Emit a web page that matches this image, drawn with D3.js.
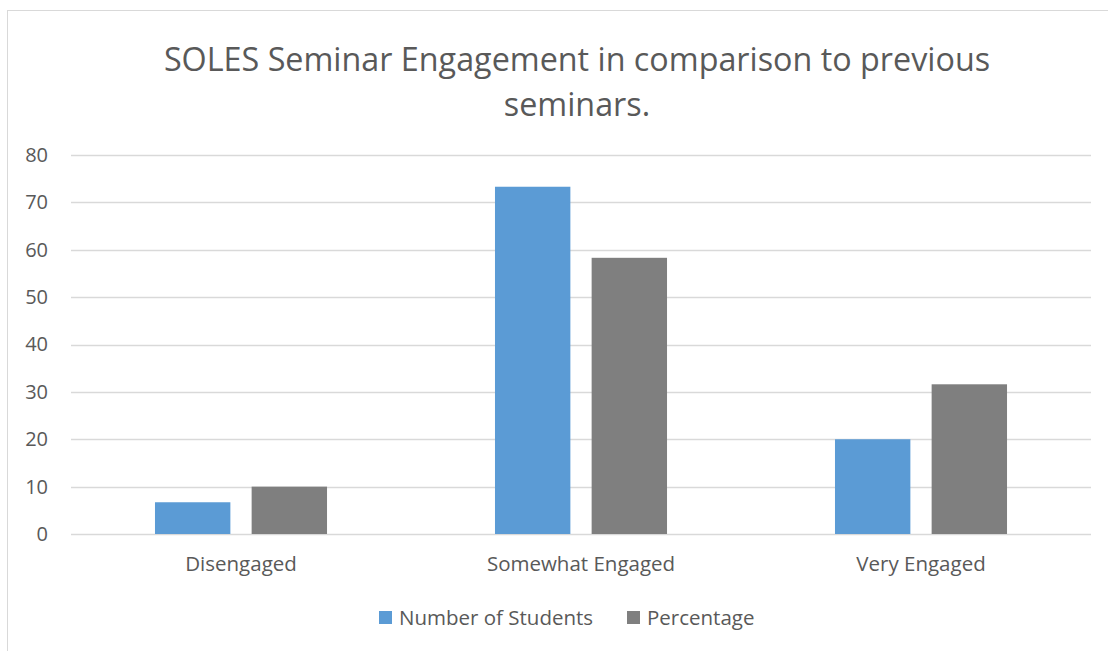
<!DOCTYPE html>
<html>
<head>
<meta charset="utf-8">
<script src="https://cdn.jsdelivr.net/npm/d3@7"></script>
<style>
  body { margin: 0; background: #fff; }
  svg { display: block; font-family: "Open Sans", sans-serif; }
</style>
</head>
<body>
<div id="chart"></div>
<script>
const categories = ["Disengaged", "Somewhat Engaged", "Very Engaged"];
const series_names = ["Number of Students", "Percentage"];
const students = [6.7, 73.3, 20];
const percentage = [10, 58.3, 31.6];
const y_ticks = [0, 10, 20, 30, 40, 50, 60, 70, 80];
const title_lines = ["SOLES Seminar Engagement in comparison to previous", "seminars."];

const width = 1108;
const height = 651;
const margin = { top: 155, right: 17, bottom: 117, left: 71 };

const data = categories.map((c, i) => ({ cat: c, "Number of Students": students[i], "Percentage": percentage[i] }));

const svg = d3.select("#chart").append("svg")
  .attr("width", width)
  .attr("height", height);

// outer frame
svg.append("rect")
  .attr("x", 7.5).attr("y", 10.5)
  .attr("width", 1120).attr("height", 700)
  .attr("fill", "none")
  .attr("stroke", "#d9d9d9");

const color = d3.scaleOrdinal().domain(series_names).range(["#5b9bd5", "#7f7f7f"]);

const x0 = d3.scaleBand()
  .domain(categories)
  .range([margin.left, width - margin.right])
  .paddingInner(0.494)
  .paddingOuter(0.247);

const x1 = d3.scaleBand()
  .domain(series_names)
  .range([0, x0.bandwidth()])
  .paddingInner(0.22);

const y = d3.scaleLinear()
  .domain([0, 80])
  .range([height - margin.bottom, margin.top]);

// gridlines
svg.append("g")
  .selectAll("line")
  .data(y_ticks)
  .join("line")
  .attr("x1", margin.left)
  .attr("x2", width - margin.right)
  .attr("y1", (d) => Math.round(y(d)) + 0.5)
  .attr("y2", (d) => Math.round(y(d)) + 0.5)
  .attr("stroke", "#d9d9d9")
  .attr("stroke-width", 1.3);

// y axis labels
svg.append("g")
  .attr("transform", `translate(${ margin.left - 23 },0)`)
  .call(d3.axisLeft(y).tickValues(y_ticks).tickSize(0).tickPadding(0))
  .call((g) => g.select(".domain").remove())
  .call((g) => g.selectAll("text")
    .attr("font-size", 20)
    .attr("font-family", "Open Sans, sans-serif")
    .attr("fill", "#595959"));

// bars
svg.append("g")
  .selectAll("g")
  .data(data)
  .join("g")
  .attr("transform", (d) => `translate(${ x0(d.cat) },0)`)
  .selectAll("rect")
  .data((d) => series_names.map((key) => ({ key, value: d[key] })))
  .join("rect")
  .attr("x", (d) => x1(d.key))
  .attr("y", (d) => y(d.value))
  .attr("width", x1.bandwidth())
  .attr("height", (d) => y(0) - y(d.value))
  .attr("fill", (d) => color(d.key));

// x axis labels
svg.append("g")
  .attr("transform", `translate(0,${ height - margin.bottom + 22 })`)
  .call(d3.axisBottom(x0).tickSize(0).tickPadding(0))
  .call((g) => g.select(".domain").remove())
  .call((g) => g.selectAll("text")
    .attr("font-size", 20.5)
    .attr("font-family", "Open Sans, sans-serif")
    .attr("fill", "#595959"));

// title
svg.append("g")
  .selectAll("text")
  .data(title_lines)
  .join("text")
  .attr("x", 577)
  .attr("y", (d, i) => 71 + i * 45)
  .attr("text-anchor", "middle")
  .attr("font-size", 32.3)
  .attr("fill", "#595959")
  .text((d) => d);

// legend
const legend_x = [379, 627];
const lg = svg.append("g")
  .selectAll("g")
  .data(series_names)
  .join("g")
  .attr("transform", (d, i) => `translate(${ legend_x[i] },611)`);

lg.append("rect")
  .attr("width", 13)
  .attr("height", 13)
  .attr("fill", color);

lg.append("text")
  .attr("x", 20)
  .attr("y", 7)
  .attr("dy", "0.35em")
  .attr("font-size", 20.5)
  .attr("fill", "#595959")
  .text((d) => d);
</script>
</body>
</html>
